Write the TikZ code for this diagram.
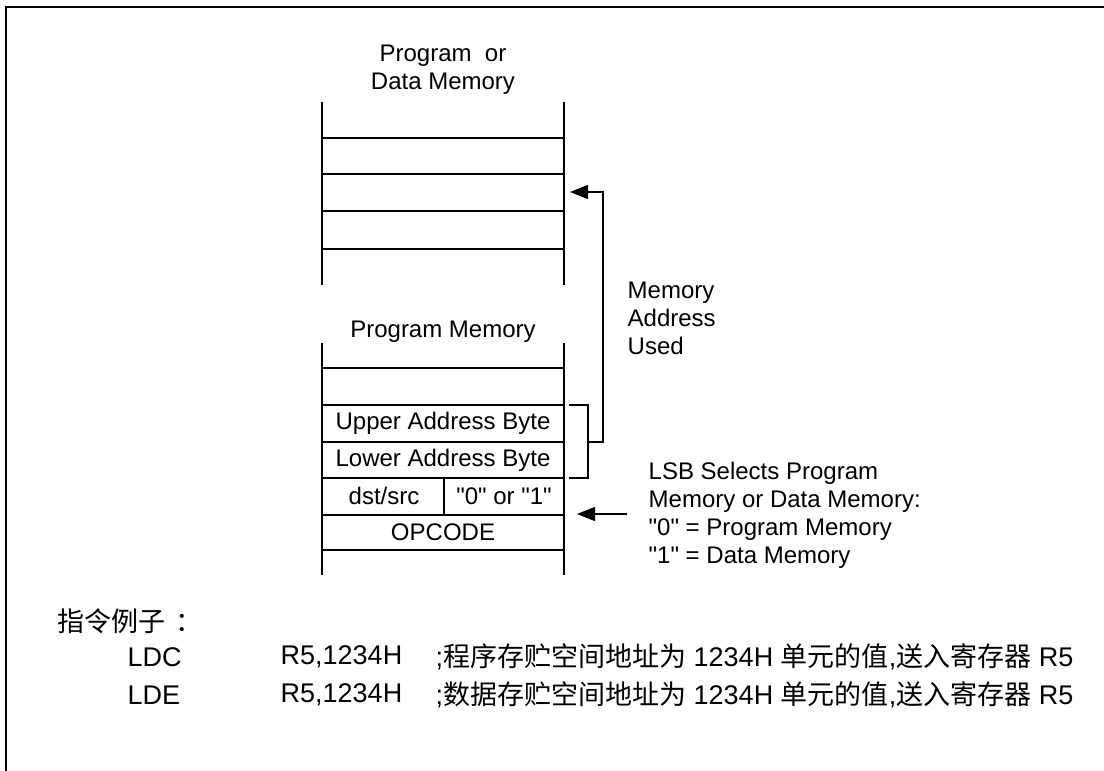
\documentclass[tikz,border=0pt]{standalone}
\usepackage{fontspec}
\setmainfont{Liberation Sans}
\newfontfamily\cjk{Noto Sans CJK SC}
\usetikzlibrary{arrows.meta}
\newcommand{\qt}[1]{\textquotedbl#1\textquotedbl}

\begin{document}
\begin{tikzpicture}[x=0.5pt, y=-0.5pt, line width=0.7pt]
\tikzset{memtxt/.style={font=\fontsize{12}{14}\selectfont, inner sep=0pt}}
\tikzset{extxt/.style={font=\fontsize{13.5}{16}\selectfont, inner sep=0pt, anchor=west}}
\tikzset{tip/.style={-{Triangle[length=9pt,width=7pt]}}}

\useasboundingbox (0,0) rectangle (1104,771);
\draw[line width=1pt] (1104,7) -- (6,7) -- (6,771);

% program or data memory
\node[memtxt, align=center] (pdmtitle) at (443,70) {Program\ \ or\\Data Memory};
\draw (322,102) -- (322,285) (564,102) -- (564,285);
\foreach \y in {138,174,211,249} \draw (322,\y) -- (564,\y);
\coordinate (used) at (570,192);

% program memory
\node[memtxt] (pmtitle) at (443,332) {Program Memory};
\draw (322,343) -- (322,575) (564,343) -- (564,575);
\foreach \y in {368,405,442,478,515,550} \draw (322,\y) -- (564,\y);
\draw (444,478) -- (444,515);
\node[memtxt] (upper) at (443,423) {Upper Address Byte};
\node[memtxt] (lower) at (443,460) {Lower Address Byte};
\node[memtxt] (dstsrc) at (384,496) {dst/src};
\node[memtxt] (lsbbit) at (504,496) {\qt{0} or \qt{1}};
\node[memtxt] (opcode) at (443,532) {OPCODE};

\coordinate (brk) at (588,442);
\draw (569,405) -- (588,405) -- (588,478) -- (569,478);
\draw[tip] (brk) -- ++(15,0) |- (used);

\node[memtxt, align=left, anchor=west] (memused) at (627,318) {Memory\\Address\\Used};
\node[memtxt, align=left, anchor=west] (lsbnote) at (648,515)
  {LSB Selects Program\\Memory or Data Memory:\\\qt{0} = Program Memory\\\qt{1} = Data Memory};
\coordinate (lsbtail) at (627,514);
\coordinate (lsbhead) at (577,514);
\draw[tip] (lsbtail) -- (lsbhead);

% examples
\node[extxt] (example) at (57,621) {\cjk 指令例子\kern5pt ：};
\node[extxt] (ldc) at (127,657) {LDC};
\node[extxt] (ldcops) at (280,657) {R5,1234H};
\node[extxt] (ldccmt) at (435,657) {;{\cjk 程序存贮空间地址为} 1234H {\cjk 单元的值},{\cjk 送入寄存器} R5};
\node[extxt] (lde) at (127,695) {LDE};
\node[extxt] (ldeops) at (280,695) {R5,1234H};
\node[extxt] (ldecmt) at (435,695) {;{\cjk 数据存贮空间地址为} 1234H {\cjk 单元的值},{\cjk 送入寄存器} R5};

\end{tikzpicture}
\end{document}
